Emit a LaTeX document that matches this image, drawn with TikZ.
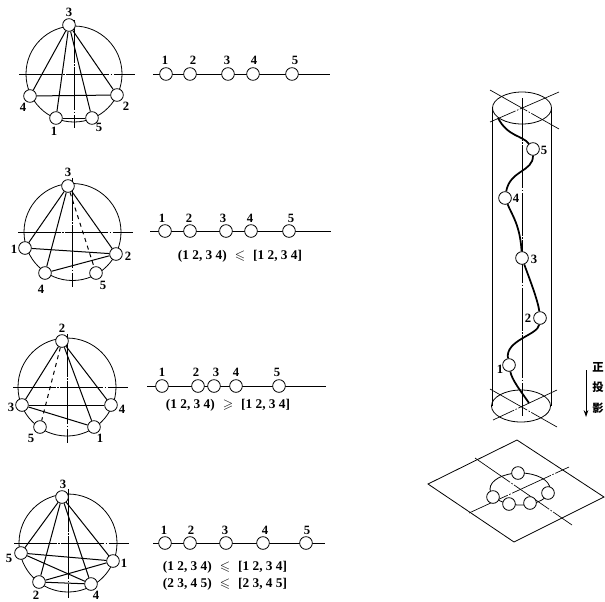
\documentclass[tikz,border=0pt]{standalone}
\usepackage{amsmath,amssymb}
\usepackage{fontspec}
\setmainfont{Liberation Serif}
\newfontfamily\cjk{Noto Sans CJK SC}
\usepackage{tikz}
\usetikzlibrary{arrows.meta}
\newcommand{\gaprel}[1]{\kern6pt$#1$\kern6pt}
\tikzset{
  ar/.style={-{Stealth[length=1.8mm,width=1.2mm]},semithick},
  nd/.style={circle,draw,semithick,fill=white,minimum size=9.5pt,inner sep=0pt},
  lbl/.style={font=\fontsize{9.5}{10}\selectfont\bfseries,inner sep=0pt},
  txt/.style={font=\fontsize{10}{11}\selectfont\bfseries,inner sep=0pt},
  zh/.style={font=\fontsize{8.5}{9}\selectfont\cjk\bfseries,inner sep=0pt},
  chord/.style={draw,line width=0.75pt},
  axis/.style={line width=0.5pt,dash pattern=on 32pt off 1.2pt on 1.2pt off 1.2pt},
  curv/.style={line width=1.3pt}
}
\begin{document}
\begin{tikzpicture}[x=0.75pt,y=-0.75pt]
\useasboundingbox (0,0) rectangle (605,601);
% first row
\draw[semithick] (74,74) circle (48);
\draw[axis] (19,74)--(135,74);
\draw[axis] (74,20)--(74,128);
\draw[semithick] (153,74)--(330,74);
\foreach \n/\x/\y/\lx/\ly in {1/56/118/54/131,2/117/95/126/106,3/69/25/69/12,4/30/96/23/107,5/92/118/99/127}{
  \node[nd] (a\n) at (\x,\y) {};
  \node[lbl] (la\n) at (\lx,\ly) {\n};
}
\foreach \n/\x/\lx in {1/166/165,2/190/193,3/228/227,4/253/254,5/292/295}{
  \node[nd] (p\n) at (\x,74) {};
  \node[lbl] (lp\n) at (\lx,60) {\n};
}
\foreach \u/\v in {3/4,3/1,3/5,3/2,4/2,1/5}{\draw[chord] (a\u)--(a\v);}
% second row
\draw[semithick] (72.5,232) circle (48.5);
\draw[axis] (18,232)--(133,232);
\draw[axis] (72,178)--(72,287);
\draw[semithick] (150,231)--(331,231);
\foreach \n/\x/\y/\lx/\ly in {1/25/248/14/249,2/116/254/128/256,3/68/186/68/172,4/45/273/41/289,5/96/273/103/285}{
  \node[nd] (b\n) at (\x,\y) {};
  \node[lbl] (lb\n) at (\lx,\ly) {\n};
}
\foreach \n/\x/\lx in {1/165/162,2/190/189,3/226/223,4/251/250,5/289/291}{
  \node[nd] (q\n) at (\x,231) {};
  \node[lbl] (lq\n) at (\lx,218) {\n};
}
\foreach \u/\v in {3/1,3/4,3/2,1/2,4/2}{\draw[chord] (b\u)--(b\v);}
\draw[chord,dashed] (b3)--(b5);
\node[txt] (tb) at (240,256) {(1~2, 3~4)\gaprel{\leqslant}[1~2, 3~4]};
% third row
\draw[semithick] (67,387) circle (49);
\draw[axis] (13,387)--(128,387);
\draw[axis] (67,334)--(67,443);
\draw[semithick] (147,386)--(326,386);
\foreach \n/\x/\y/\lx/\ly in {1/94/427/100/438,2/62/341/62/328,3/22/405/11/407,4/111/405/122/409,5/40/427/31/438}{
  \node[nd] (c\n) at (\x,\y) {};
  \node[lbl] (lc\n) at (\lx,\ly) {\n};
}
\foreach \n/\x/\lx in {1/162/162,2/198/196,3/214/216,4/236/236,5/279/277}{
  \node[nd] (r\n) at (\x,386) {};
  \node[lbl] (lr\n) at (\lx,372) {\n};
}
\foreach \u/\v in {2/3,2/1,2/4,3/4,3/1}{\draw[chord] (c\u)--(c\v);}
\draw[chord,dashed] (c2)--(c5);
\node[txt] (tc) at (228,405) {(1~2, 3~4)\gaprel{\geqslant}[1~2, 3~4]};
% fourth row
\draw[semithick] (68,543) circle (49);
\draw[axis] (14,543)--(129,543);
\draw[axis] (68,489)--(68,598);
\draw[semithick] (153,543)--(325,543);
\foreach \n/\x/\y/\lx/\ly in {1/113/561/124/563,2/39/582/36/595,3/62/497/63/484,4/91/584/96/595,5/21/553/9/558}{
  \node[nd] (d\n) at (\x,\y) {};
  \node[lbl] (ld\n) at (\lx,\ly) {\n};
}
\foreach \n/\x/\lx in {1/165/164,2/190/191,3/226/225,4/263/265,5/306/307}{
  \node[nd] (s\n) at (\x,543) {};
  \node[lbl] (ls\n) at (\lx,530) {\n};
}
\foreach \u/\v in {3/5,3/2,3/4,3/1,5/1,5/4,2/1,2/4}{\draw[chord] (d\u)--(d\v);}
\node[txt] (td) at (225,567) {(1~2, 3~4)\gaprel{\leqslant}[1~2, 3~4]};
\node[txt] (te) at (225,584) {(2~3, 4~5)\gaprel{\leqslant}[2~3, 4~5]};
% cylinder
\draw[semithick] (522,108) ellipse (29.5 and 16);
\draw[semithick] (521,406) ellipse (29.5 and 16);
\draw[semithick] (492.5,108)--(492.5,406);
\draw[semithick] (551.5,108)--(551.5,406);
\draw[axis] (522,98)--(522,416);
\draw[axis] (490,90)--(559,129);
\draw[axis] (559,92)--(490,122);
\draw[axis] (490,389)--(557,427);
\draw[axis] (557,390)--(493,420);
\coordinate (ct) at (498,118);
\coordinate (cb) at (529,403);
\foreach \n/\x/\y/\lx/\ly in {1/509/365/500/369,2/540/318/528/318,3/522/258/534/259,4/505/198/516/198,5/533/149/544/150}{
  \node[nd] (n\n) at (\x,\y) {};
  \node[lbl] (ln\n) at (\lx,\ly) {\n};
}
\draw[curv] (ct) .. controls (508,137) and (522,135) .. (n5);
\draw[curv] (n5) .. controls (533,172) and (510,170) .. (n4);
\draw[curv] (n4) .. controls (512,215) and (520,225) .. (n3);
\draw[curv] (n3) .. controls (528,275) and (538,300) .. (n2);
\draw[curv] (n2) .. controls (538,335) and (505,340) .. (n1);
\draw[curv] (n1) .. controls (512,380) and (520,390) .. (cb);
% projection arrow
\coordinate (pa) at (586,370);
\coordinate (pb) at (586,417);
\draw[ar] (pa)--(pb);
\node[zh] (z1) at (598,367) {正};
\node[zh] (z2) at (598,387) {投};
\node[zh] (z3) at (598,408) {影};
% plane
\draw[semithick] (517,440)--(604,497)--(514,542)--(428,484)--cycle;
\draw[axis] (475,458)--(572,525);
\draw[axis] (469,513)--(569,467);
\draw[semithick] (520,489) ellipse (30 and 16);
\foreach \n/\x/\y in {1/518/473,2/548/493,3/530/503,4/509/504,5/493/497}{
  \node[nd] (m\n) at (\x,\y) {};
}
\end{tikzpicture}
\end{document}
